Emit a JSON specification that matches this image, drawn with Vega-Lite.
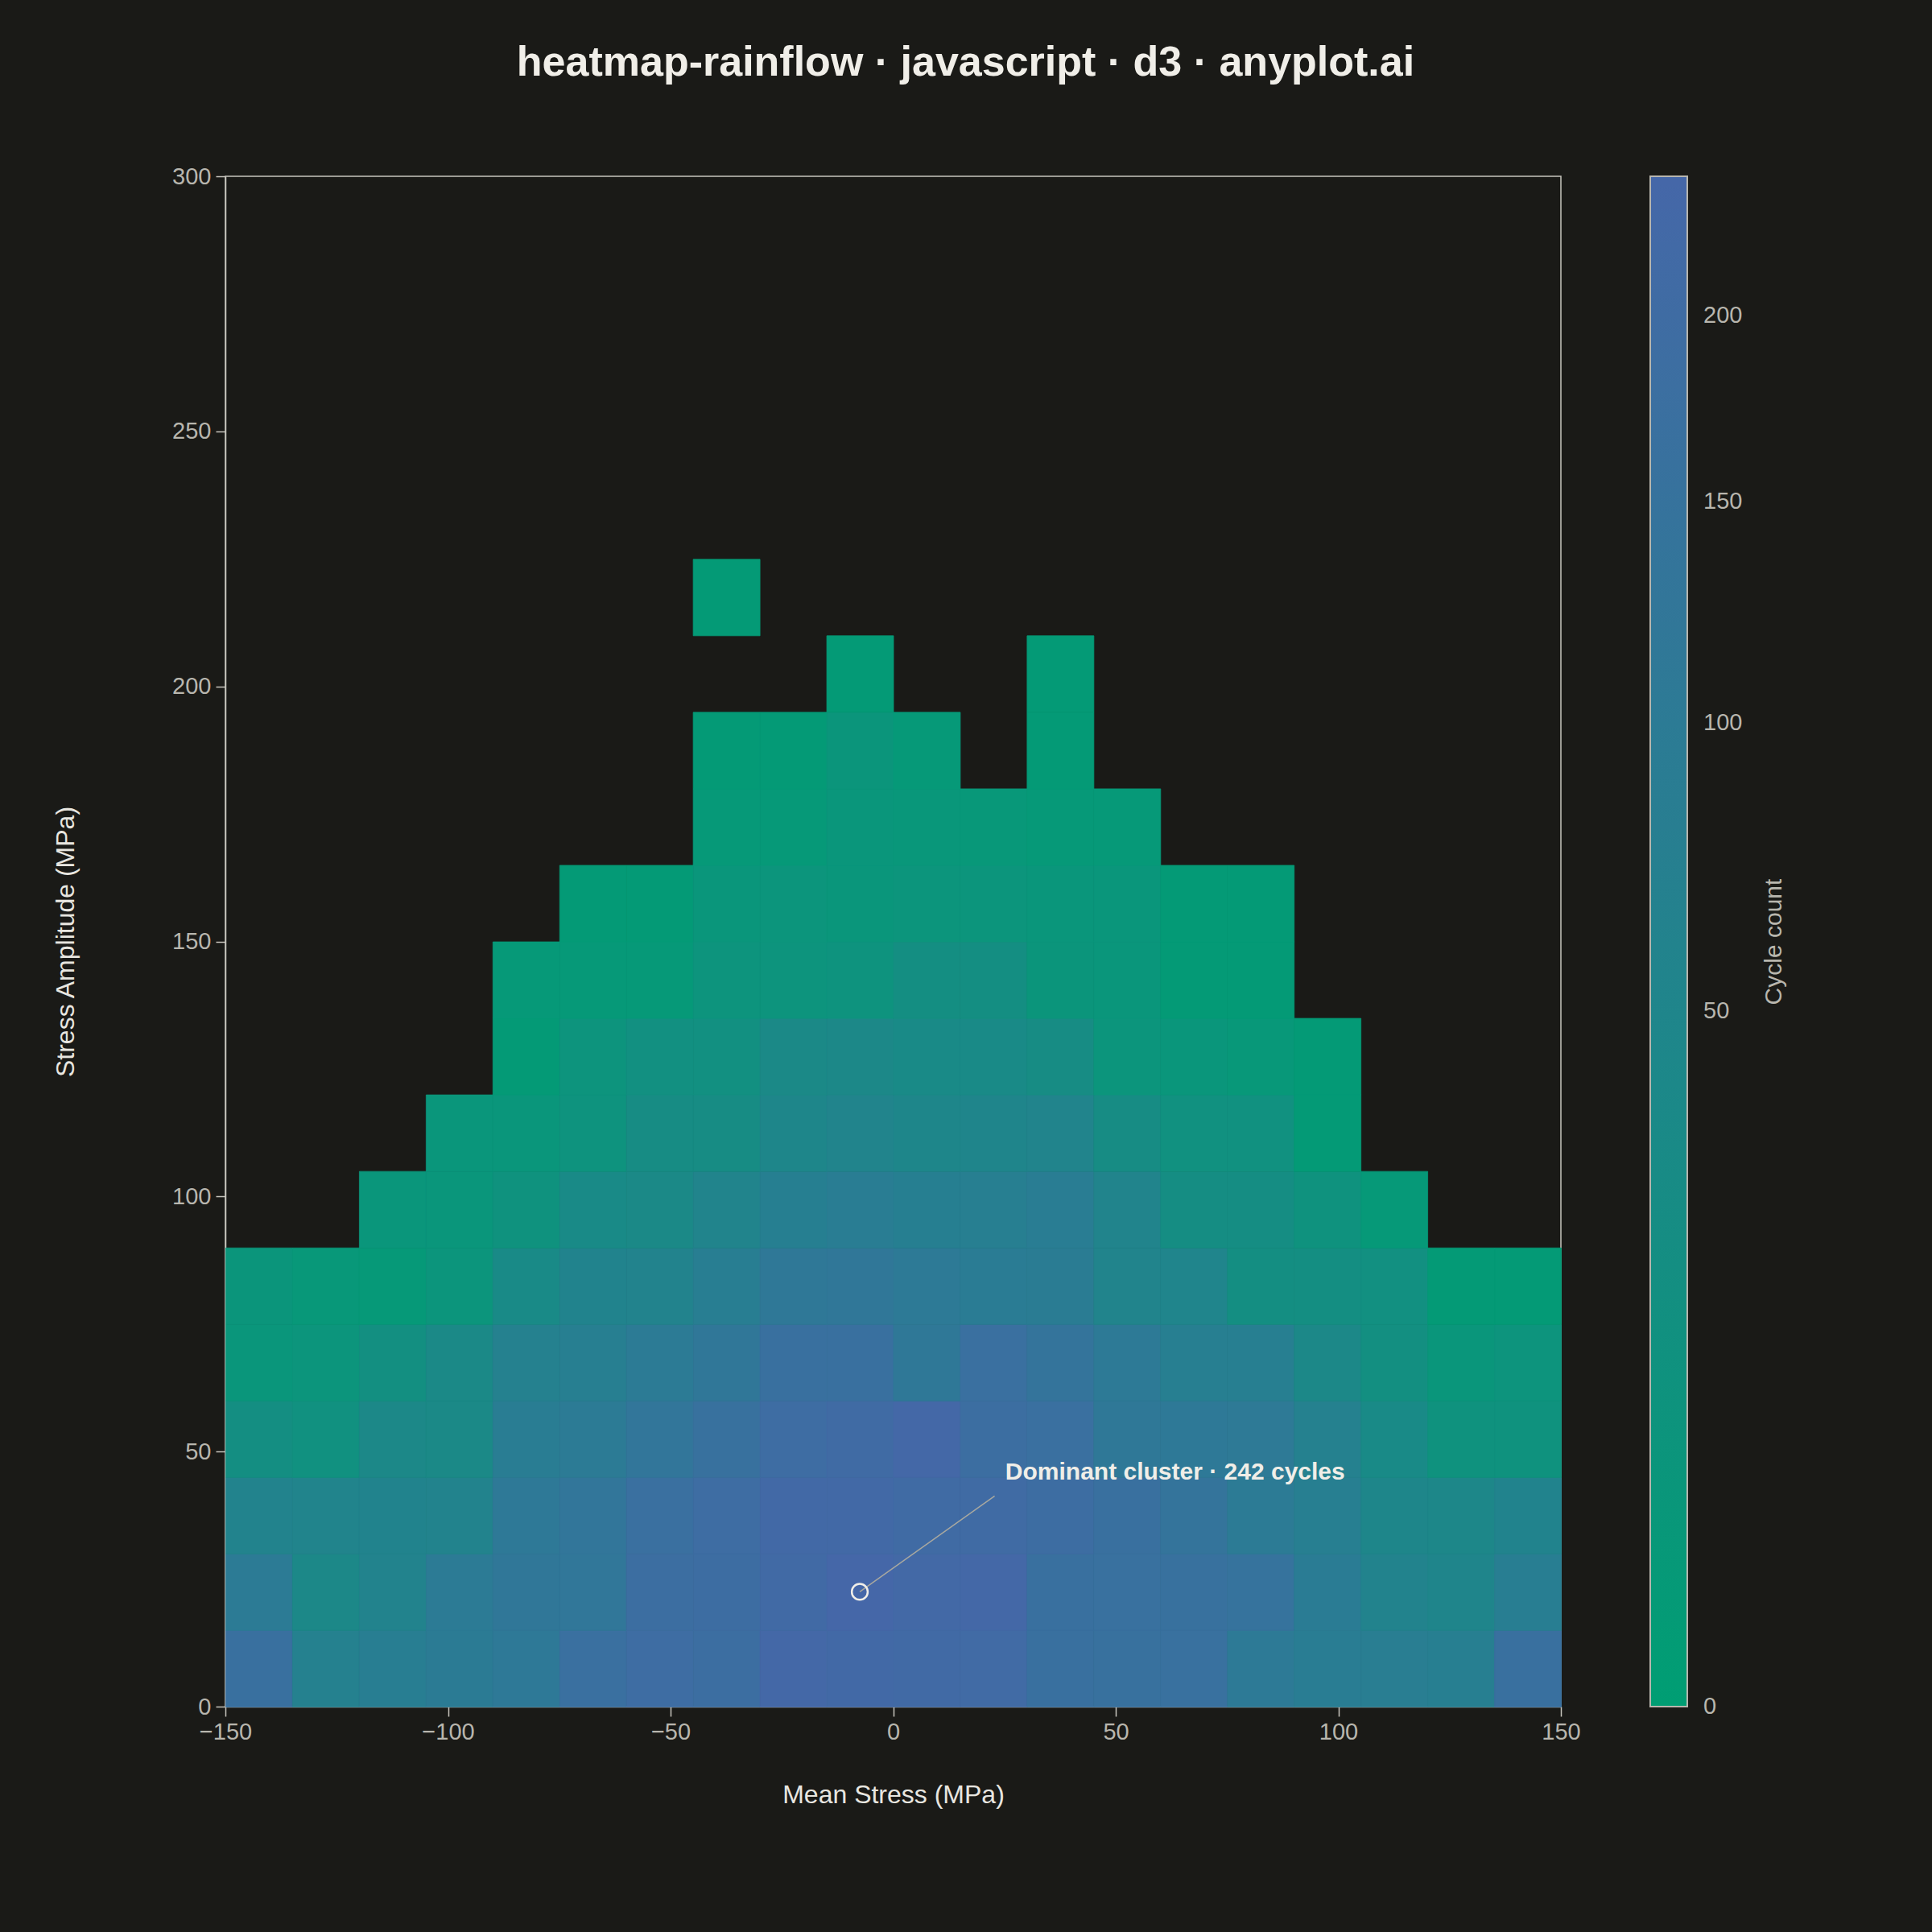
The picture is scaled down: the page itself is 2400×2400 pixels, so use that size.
{
  "$schema": "https://vega.github.io/schema/vega-lite/v6.json",
  "autosize": {"type": "none"},
  "width": 1659,
  "height": 1901,
  "padding": {"left": 280, "top": 219, "right": 461, "bottom": 280},
  "background": "#1A1A17",
  "title": {
    "text": "heatmap-rainflow · javascript · d3 · anyplot.ai",
    "fontSize": 52,
    "fontWeight": "bold",
    "color": "#F0EEE8",
    "anchor": "middle",
    "dx": 90,
    "offset": 100
  },
  "config": {
    "font": "Liberation Sans",
    "view": {"stroke": "#C8C6BE", "strokeWidth": 1.5},
    "axis": {
      "grid": false,
      "zindex": 1,
      "domainColor": "#C8C6BE",
      "domainWidth": 1.5,
      "tickColor": "#C8C6BE",
      "tickWidth": 1.5,
      "tickSize": 12,
      "labelFontSize": 29,
      "labelColor": "#B8B6AE",
      "titleFontSize": 32,
      "titleFontWeight": "normal",
      "titleColor": "#E8E6E0"
    }
  },
  "layer": [
    {
      "data": {
        "values": [
          {"m": -150, "a": 0, "n": 166}, {"m": -135, "a": 0, "n": 68}, {"m": -120, "a": 0, "n": 83}, {"m": -105, "a": 0, "n": 96}, {"m": -90, "a": 0, "n": 109},
          {"m": -75, "a": 0, "n": 172}, {"m": -60, "a": 0, "n": 196}, {"m": -45, "a": 0, "n": 184}, {"m": -30, "a": 0, "n": 235}, {"m": -15, "a": 0, "n": 222},
          {"m": 0, "a": 0, "n": 215}, {"m": 15, "a": 0, "n": 212}, {"m": 30, "a": 0, "n": 166}, {"m": 45, "a": 0, "n": 162}, {"m": 60, "a": 0, "n": 164},
          {"m": 75, "a": 0, "n": 104}, {"m": 90, "a": 0, "n": 87}, {"m": 105, "a": 0, "n": 84}, {"m": 120, "a": 0, "n": 79}, {"m": 135, "a": 0, "n": 166},

          {"m": -150, "a": 15, "n": 100}, {"m": -135, "a": 15, "n": 39}, {"m": -120, "a": 15, "n": 60}, {"m": -105, "a": 15, "n": 100}, {"m": -90, "a": 15, "n": 119},
          {"m": -75, "a": 15, "n": 123}, {"m": -60, "a": 15, "n": 184}, {"m": -45, "a": 15, "n": 190}, {"m": -30, "a": 15, "n": 215}, {"m": -15, "a": 15, "n": 242},
          {"m": 0, "a": 15, "n": 228}, {"m": 15, "a": 15, "n": 232}, {"m": 30, "a": 15, "n": 166}, {"m": 45, "a": 15, "n": 164}, {"m": 60, "a": 15, "n": 160},
          {"m": 75, "a": 15, "n": 150}, {"m": 90, "a": 15, "n": 91}, {"m": 105, "a": 15, "n": 60}, {"m": 120, "a": 15, "n": 50}, {"m": 135, "a": 15, "n": 83},

          {"m": -150, "a": 30, "n": 60}, {"m": -135, "a": 30, "n": 54}, {"m": -120, "a": 30, "n": 57}, {"m": -105, "a": 30, "n": 60}, {"m": -90, "a": 30, "n": 109},
          {"m": -75, "a": 30, "n": 128}, {"m": -60, "a": 30, "n": 172}, {"m": -45, "a": 30, "n": 196}, {"m": -30, "a": 30, "n": 222}, {"m": -15, "a": 30, "n": 222},
          {"m": 0, "a": 30, "n": 209}, {"m": 15, "a": 30, "n": 207}, {"m": 30, "a": 30, "n": 190}, {"m": 45, "a": 30, "n": 166}, {"m": 60, "a": 30, "n": 139},
          {"m": 75, "a": 30, "n": 100}, {"m": 90, "a": 30, "n": 79}, {"m": 105, "a": 30, "n": 47}, {"m": 120, "a": 30, "n": 42}, {"m": 135, "a": 30, "n": 57},

          {"m": -150, "a": 45, "n": 20}, {"m": -135, "a": 45, "n": 14}, {"m": -120, "a": 45, "n": 39}, {"m": -105, "a": 45, "n": 36}, {"m": -90, "a": 45, "n": 87},
          {"m": -75, "a": 45, "n": 100}, {"m": -60, "a": 45, "n": 128}, {"m": -45, "a": 45, "n": 160}, {"m": -30, "a": 45, "n": 196}, {"m": -15, "a": 45, "n": 209},
          {"m": 0, "a": 45, "n": 235}, {"m": 15, "a": 45, "n": 184}, {"m": 30, "a": 45, "n": 172}, {"m": 45, "a": 45, "n": 114}, {"m": 60, "a": 45, "n": 109},
          {"m": 75, "a": 45, "n": 106}, {"m": 90, "a": 45, "n": 68}, {"m": 105, "a": 45, "n": 33}, {"m": 120, "a": 45, "n": 11}, {"m": 135, "a": 45, "n": 11},

          {"m": -150, "a": 60, "n": 5}, {"m": -135, "a": 60, "n": 7}, {"m": -120, "a": 60, "n": 18}, {"m": -105, "a": 60, "n": 36}, {"m": -90, "a": 60, "n": 68},
          {"m": -75, "a": 60, "n": 79}, {"m": -60, "a": 60, "n": 100}, {"m": -45, "a": 60, "n": 119}, {"m": -30, "a": 60, "n": 166}, {"m": -15, "a": 60, "n": 166},
          {"m": 0, "a": 60, "n": 114}, {"m": 15, "a": 60, "n": 172}, {"m": 30, "a": 60, "n": 139}, {"m": 45, "a": 60, "n": 104}, {"m": 60, "a": 60, "n": 79},
          {"m": 75, "a": 60, "n": 77}, {"m": 90, "a": 60, "n": 39}, {"m": 105, "a": 60, "n": 18}, {"m": 120, "a": 60, "n": 5}, {"m": 135, "a": 60, "n": 8},

          {"m": -150, "a": 75, "n": 6}, {"m": -135, "a": 75, "n": 3}, {"m": -120, "a": 75, "n": 2}, {"m": -105, "a": 75, "n": 7}, {"m": -90, "a": 75, "n": 33},
          {"m": -75, "a": 75, "n": 57}, {"m": -60, "a": 75, "n": 60}, {"m": -45, "a": 75, "n": 83}, {"m": -30, "a": 75, "n": 114}, {"m": -15, "a": 75, "n": 119},
          {"m": 0, "a": 75, "n": 104}, {"m": 15, "a": 75, "n": 91}, {"m": 30, "a": 75, "n": 90}, {"m": 45, "a": 75, "n": 54}, {"m": 60, "a": 75, "n": 52},
          {"m": 75, "a": 75, "n": 20}, {"m": 90, "a": 75, "n": 20}, {"m": 105, "a": 75, "n": 16}, {"m": 120, "a": 75, "n": 1}, {"m": 135, "a": 75, "n": 1},

          {"m": -120, "a": 90, "n": 5}, {"m": -105, "a": 90, "n": 5}, {"m": -90, "a": 90, "n": 11}, {"m": -75, "a": 90, "n": 33}, {"m": -60, "a": 90, "n": 36},
          {"m": -45, "a": 90, "n": 54}, {"m": -30, "a": 90, "n": 75}, {"m": -15, "a": 90, "n": 87}, {"m": 0, "a": 90, "n": 75}, {"m": 15, "a": 90, "n": 78},
          {"m": 30, "a": 90, "n": 87}, {"m": 45, "a": 90, "n": 54}, {"m": 60, "a": 90, "n": 22}, {"m": 75, "a": 90, "n": 22}, {"m": 90, "a": 90, "n": 11},
          {"m": 105, "a": 90, "n": 2},

          {"m": -105, "a": 105, "n": 5}, {"m": -90, "a": 105, "n": 5}, {"m": -75, "a": 105, "n": 10}, {"m": -60, "a": 105, "n": 26}, {"m": -45, "a": 105, "n": 26},
          {"m": -30, "a": 105, "n": 47}, {"m": -15, "a": 105, "n": 54}, {"m": 0, "a": 105, "n": 47}, {"m": 15, "a": 105, "n": 50}, {"m": 30, "a": 105, "n": 54},
          {"m": 45, "a": 105, "n": 26}, {"m": 60, "a": 105, "n": 14}, {"m": 75, "a": 105, "n": 14}, {"m": 90, "a": 105, "n": 1},

          {"m": -90, "a": 120, "n": 1}, {"m": -75, "a": 120, "n": 8}, {"m": -60, "a": 120, "n": 16}, {"m": -45, "a": 120, "n": 16}, {"m": -30, "a": 120, "n": 36},
          {"m": -15, "a": 120, "n": 39}, {"m": 0, "a": 120, "n": 33}, {"m": 15, "a": 120, "n": 33}, {"m": 30, "a": 120, "n": 26}, {"m": 45, "a": 120, "n": 7},
          {"m": 60, "a": 120, "n": 5}, {"m": 75, "a": 120, "n": 3}, {"m": 90, "a": 120, "n": 1},

          {"m": -90, "a": 135, "n": 2}, {"m": -75, "a": 135, "n": 2}, {"m": -60, "a": 135, "n": 2}, {"m": -45, "a": 135, "n": 8}, {"m": -30, "a": 135, "n": 8},
          {"m": -15, "a": 135, "n": 10}, {"m": 0, "a": 135, "n": 20}, {"m": 15, "a": 135, "n": 20}, {"m": 30, "a": 135, "n": 6}, {"m": 45, "a": 135, "n": 5},
          {"m": 60, "a": 135, "n": 1}, {"m": 75, "a": 135, "n": 1},

          {"m": -75, "a": 150, "n": 1}, {"m": -60, "a": 150, "n": 1}, {"m": -45, "a": 150, "n": 5}, {"m": -30, "a": 150, "n": 7}, {"m": -15, "a": 150, "n": 5},
          {"m": 0, "a": 150, "n": 7}, {"m": 15, "a": 150, "n": 7}, {"m": 30, "a": 150, "n": 5}, {"m": 45, "a": 150, "n": 5}, {"m": 60, "a": 150, "n": 1},
          {"m": 75, "a": 150, "n": 1},

          {"m": -45, "a": 165, "n": 2}, {"m": -30, "a": 165, "n": 2}, {"m": -15, "a": 165, "n": 5}, {"m": 0, "a": 165, "n": 4}, {"m": 15, "a": 165, "n": 3},
          {"m": 30, "a": 165, "n": 2}, {"m": 45, "a": 165, "n": 2},

          {"m": -45, "a": 180, "n": 1}, {"m": -30, "a": 180, "n": 1}, {"m": -15, "a": 180, "n": 6}, {"m": 0, "a": 180, "n": 2}, {"m": 30, "a": 180, "n": 1},

          {"m": -15, "a": 195, "n": 1}, {"m": 30, "a": 195, "n": 1},

          {"m": -45, "a": 210, "n": 1}
        ]
      },
      "mark": {"type": "rect", "binSpacing": 0, "strokeWidth": 0.8},
      "encoding": {
        "x": {
          "field": "m",
          "type": "quantitative",
          "bin": {"binned": true, "step": 15},
          "scale": {"domain": [-150, 150], "nice": false, "zero": false},
          "axis": {
            "title": "Mean Stress (MPa)",
            "values": [-150, -100, -50, 0, 50, 100, 150],
            "labelFlush": false,
            "labelPadding": 5,
            "titlePadding": 48
          }
        },
        "y": {
          "field": "a",
          "type": "quantitative",
          "bin": {"binned": true, "step": 15},
          "scale": {"domain": [0, 300], "nice": false, "zero": false},
          "axis": {
            "title": "Stress Amplitude (MPa)",
            "values": [0, 50, 100, 150, 200, 250, 300],
            "labelPadding": 6,
            "titlePadding": 115
          }
        },
        "color": {
          "field": "n",
          "type": "quantitative",
          "scale": {
            "type": "sqrt",
            "domain": [0, 242],
            "nice": false,
            "range": ["#009E73", "#4567A8"],
            "interpolate": "rgb"
          },
          "legend": {
            "type": "gradient",
            "title": "Cycle count",
            "values": [0, 50, 100, 150, 200],
            "offset": 111,
            "gradientLength": 1901,
            "gradientThickness": 46,
            "gradientStrokeColor": "#B8B6AE",
            "gradientStrokeWidth": 2,
            "labelFontSize": 29,
            "labelColor": "#B8B6AE",
            "labelOffset": 20,
            "titleOrient": "right",
            "titleAnchor": "middle",
            "titleFontSize": 30,
            "titleFontWeight": "normal",
            "titleColor": "#B8B6AE",
            "titlePadding": 25,
            "encode": {
              "labels": {"update": {"baseline": {"value": "middle"}}},
              "title": {"update": {"angle": {"value": -90}, "baseline": {"value": "top"}}}
            }
          }
        },
        "stroke": {
          "field": "n",
          "type": "quantitative",
          "scale": {
            "type": "sqrt",
            "domain": [0, 242.01],
            "nice": false,
            "range": ["#009E73", "#4567A8"],
            "interpolate": "rgb"
          },
          "legend": null
        }
      }
    },
    {
      "data": {"values": [{"m": -7.5, "a": 22.5}, {"m": 22.8, "a": 41.3}]},
      "mark": {"type": "line", "color": "#A8A8A0", "strokeWidth": 1.5},
      "encoding": {
        "x": {"field": "m", "type": "quantitative"},
        "y": {"field": "a", "type": "quantitative"}
      }
    },
    {
      "data": {"values": [{"m": -7.5, "a": 22.5}]},
      "mark": {"type": "point", "shape": "circle", "filled": false, "stroke": "#F0EEE8", "strokeWidth": 2.5, "size": 390, "opacity": 1},
      "encoding": {
        "x": {"field": "m", "type": "quantitative"},
        "y": {"field": "a", "type": "quantitative"}
      }
    },
    {
      "data": {"values": [{"m": 25.2, "a": 44.5, "label": "Dominant cluster · 242 cycles"}]},
      "mark": {"type": "text", "align": "left", "baseline": "alphabetic", "fontSize": 30, "fontWeight": "bold", "color": "#F0EEE8"},
      "encoding": {
        "x": {"field": "m", "type": "quantitative"},
        "y": {"field": "a", "type": "quantitative"},
        "text": {"field": "label"}
      }
    }
  ]
}
